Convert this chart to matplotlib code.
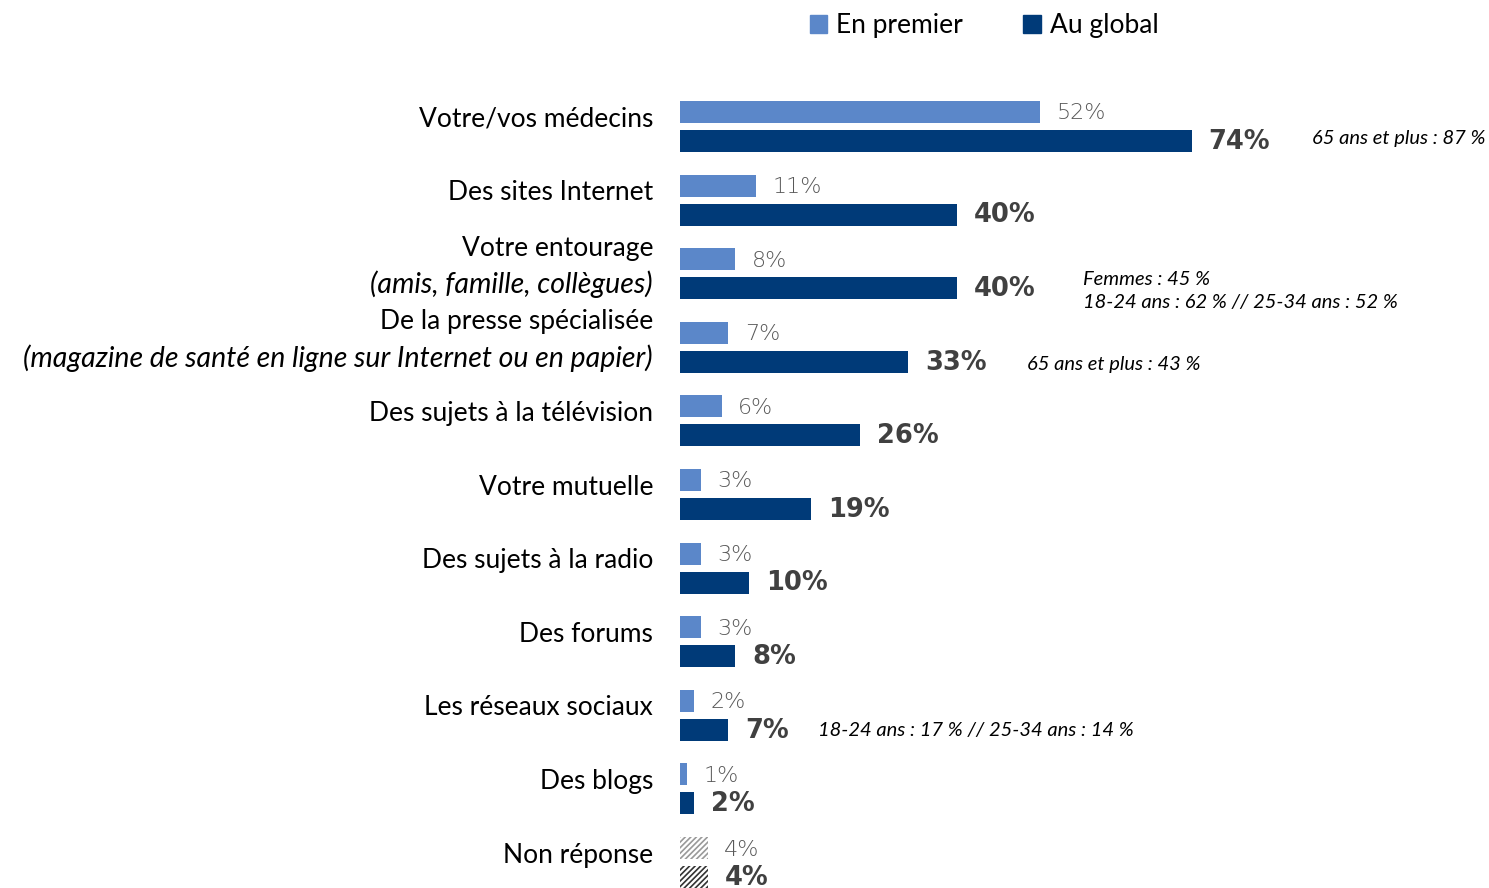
import matplotlib.pyplot as plt
from matplotlib.patches import Patch

line1 = ["Votre/vos médecins", "Des sites Internet", "Votre entourage",
         "De la presse spécialisée", "Des sujets à la télévision", "Votre mutuelle",
         "Des sujets à la radio", "Des forums", "Les réseaux sociaux", "Des blogs",
         "Non réponse"]
line2 = [None, None, "(amis, famille, collègues)",
         "(magazine de santé en ligne sur Internet ou en papier)",
         None, None, None, None, None, None, None]
premier = [52, 11, 8, 7, 6, 3, 3, 3, 2, 1, 4]
globalv = [74, 40, 40, 33, 26, 19, 10, 8, 7, 2, 4]
notes = {0: "65 ans et plus : 87 %",
         2: "Femmes : 45 %\n18-24 ans : 62 % // 25-34 ans : 52 %",
         3: "65 ans et plus : 43 %",
         8: "18-24 ans : 17 % // 25-34 ans : 14 %"}
note_x = {0: 91.3, 2: 58.2, 3: 50.1, 8: 20}
note_dy = {0: 0.16, 2: 0.23, 3: 0.24, 8: 0.21}

light = "#5B87C9"
dark = "#003A78"
grey = "#404040"

fig = plt.figure(figsize=(14.89, 8.88), dpi=100)
ax = fig.add_axes([680 / 1489, 0, 809 / 1489, 1])
ax.set_xlim(0, 809 / 6.92)
ax.set_ylim(10.346, -1.719)
ax.axis("off")

off = 0.197
h = 0.3
n = len(premier)
plt.rcParams['hatch.linewidth'] = 1.2
for i in range(n):
    last = i == n - 1
    if last:
        ax.barh(i - off, premier[i], height=h, color="none", edgecolor="#999999",
                hatch="//////", linewidth=0)
        ax.barh(i + off, globalv[i], height=h, color="none", edgecolor="#333333",
                hatch="//////", linewidth=0)
    else:
        ax.barh(i - off, premier[i], height=h, color=light)
        ax.barh(i + off, globalv[i], height=h, color=dark)
    ax.annotate(f"{premier[i]}%", (premier[i], i - off + 0.02), xytext=(12, 0),
                textcoords="offset points", va="center", ha="left",
                fontsize=16, color="#595959", family="DejaVu Sans", fontweight="light")
    ax.annotate(f"{globalv[i]}%", (globalv[i], i + off + 0.01), xytext=(12, 0),
                textcoords="offset points", va="center", ha="left",
                fontsize=18.5, color=grey, family="DejaVu Sans", fontweight="bold")
    # libellés des catégories
    if line2[i] is None:
        ax.text(-3.9, i - 0.1, line1[i], ha="right", va="center",
                fontsize=19, family="Lato", color="black")
    else:
        ax.text(-3.9, i - 0.1 - 0.245, line1[i], ha="right", va="center",
                fontsize=19, family="Lato", color="black")
        ax.text(-3.9, i - 0.1 + 0.245, line2[i], ha="right", va="center",
                fontsize=20.5, family="Lato", style="italic", color="black")
    if i in notes:
        ax.text(note_x[i], i + note_dy[i], notes[i], ha="left",
                va="center", fontsize=14.5, family="Lato", style="italic",
                color="black", linespacing=1.45)

handles = [Patch(color=light, label="En premier"), Patch(color=dark, label="Au global")]
fig.legend(handles=handles, loc="center", bbox_to_anchor=(984 / 1489, 1 - 26 / 888),
           ncol=2, frameon=False, prop={"family": "Lato", "size": 19},
           handlelength=0.65, handleheight=0.65, handletextpad=0.35, columnspacing=2.3)

fig.savefig("out.png", dpi=100)
